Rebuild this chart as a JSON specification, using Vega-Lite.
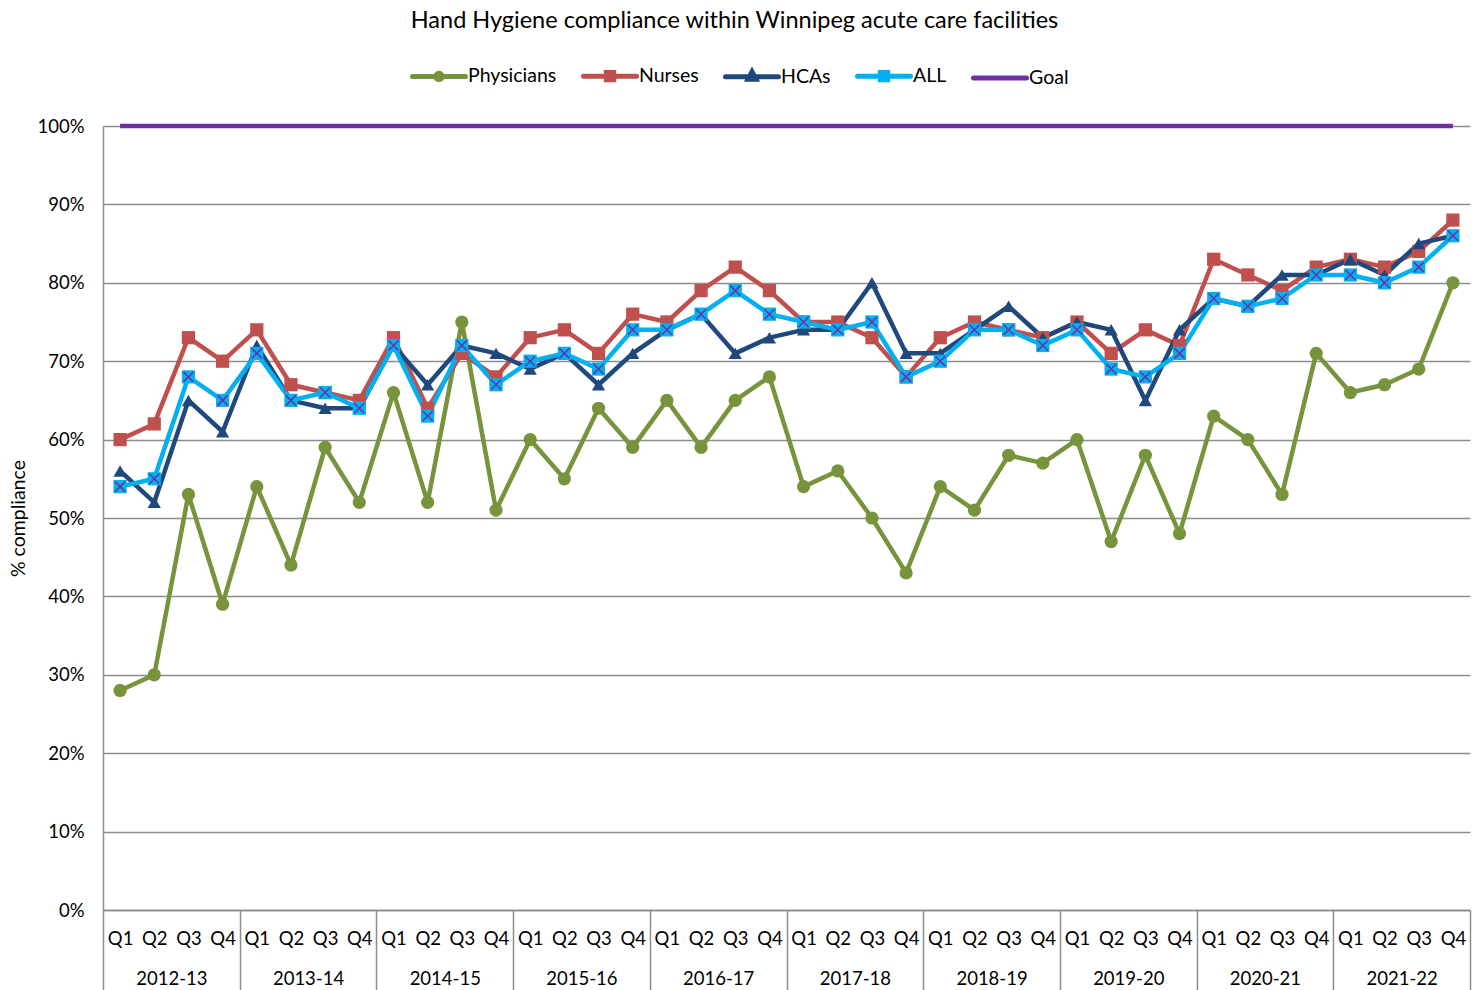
{
  "$schema": "https://vega.github.io/schema/vega-lite/v6.json",
  "width": 1367,
  "height": 784,
  "autosize": {"type": "none"},
  "padding": {"left": 103, "top": 126, "right": 9, "bottom": 80},
  "background": "white",
  "title": {
    "text": "Hand Hygiene compliance within Winnipeg acute care facilities",
    "font": "Lato",
    "fontSize": 23.5,
    "fontWeight": "normal",
    "color": "black",
    "anchor": "middle",
    "dx": -52,
    "offset": 15
  },
  "config": {
    "view": {"stroke": null},
    "font": "Lato"
  },
  "data": {
    "values": [
      {"q":"2012-13 Q1","fy":"2012-13","s":"Physicians","v":28},{"q":"2012-13 Q2","fy":"2012-13","s":"Physicians","v":30},{"q":"2012-13 Q3","fy":"2012-13","s":"Physicians","v":53},{"q":"2012-13 Q4","fy":"2012-13","s":"Physicians","v":39},
      {"q":"2013-14 Q1","fy":"2013-14","s":"Physicians","v":54},{"q":"2013-14 Q2","fy":"2013-14","s":"Physicians","v":44},{"q":"2013-14 Q3","fy":"2013-14","s":"Physicians","v":59},{"q":"2013-14 Q4","fy":"2013-14","s":"Physicians","v":52},
      {"q":"2014-15 Q1","fy":"2014-15","s":"Physicians","v":66},{"q":"2014-15 Q2","fy":"2014-15","s":"Physicians","v":52},{"q":"2014-15 Q3","fy":"2014-15","s":"Physicians","v":75},{"q":"2014-15 Q4","fy":"2014-15","s":"Physicians","v":51},
      {"q":"2015-16 Q1","fy":"2015-16","s":"Physicians","v":60},{"q":"2015-16 Q2","fy":"2015-16","s":"Physicians","v":55},{"q":"2015-16 Q3","fy":"2015-16","s":"Physicians","v":64},{"q":"2015-16 Q4","fy":"2015-16","s":"Physicians","v":59},
      {"q":"2016-17 Q1","fy":"2016-17","s":"Physicians","v":65},{"q":"2016-17 Q2","fy":"2016-17","s":"Physicians","v":59},{"q":"2016-17 Q3","fy":"2016-17","s":"Physicians","v":65},{"q":"2016-17 Q4","fy":"2016-17","s":"Physicians","v":68},
      {"q":"2017-18 Q1","fy":"2017-18","s":"Physicians","v":54},{"q":"2017-18 Q2","fy":"2017-18","s":"Physicians","v":56},{"q":"2017-18 Q3","fy":"2017-18","s":"Physicians","v":50},{"q":"2017-18 Q4","fy":"2017-18","s":"Physicians","v":43},
      {"q":"2018-19 Q1","fy":"2018-19","s":"Physicians","v":54},{"q":"2018-19 Q2","fy":"2018-19","s":"Physicians","v":51},{"q":"2018-19 Q3","fy":"2018-19","s":"Physicians","v":58},{"q":"2018-19 Q4","fy":"2018-19","s":"Physicians","v":57},
      {"q":"2019-20 Q1","fy":"2019-20","s":"Physicians","v":60},{"q":"2019-20 Q2","fy":"2019-20","s":"Physicians","v":47},{"q":"2019-20 Q3","fy":"2019-20","s":"Physicians","v":58},{"q":"2019-20 Q4","fy":"2019-20","s":"Physicians","v":48},
      {"q":"2020-21 Q1","fy":"2020-21","s":"Physicians","v":63},{"q":"2020-21 Q2","fy":"2020-21","s":"Physicians","v":60},{"q":"2020-21 Q3","fy":"2020-21","s":"Physicians","v":53},{"q":"2020-21 Q4","fy":"2020-21","s":"Physicians","v":71},
      {"q":"2021-22 Q1","fy":"2021-22","s":"Physicians","v":66},{"q":"2021-22 Q2","fy":"2021-22","s":"Physicians","v":67},{"q":"2021-22 Q3","fy":"2021-22","s":"Physicians","v":69},{"q":"2021-22 Q4","fy":"2021-22","s":"Physicians","v":80},

      {"q":"2012-13 Q1","fy":"2012-13","s":"Nurses","v":60},{"q":"2012-13 Q2","fy":"2012-13","s":"Nurses","v":62},{"q":"2012-13 Q3","fy":"2012-13","s":"Nurses","v":73},{"q":"2012-13 Q4","fy":"2012-13","s":"Nurses","v":70},
      {"q":"2013-14 Q1","fy":"2013-14","s":"Nurses","v":74},{"q":"2013-14 Q2","fy":"2013-14","s":"Nurses","v":67},{"q":"2013-14 Q3","fy":"2013-14","s":"Nurses","v":66},{"q":"2013-14 Q4","fy":"2013-14","s":"Nurses","v":65},
      {"q":"2014-15 Q1","fy":"2014-15","s":"Nurses","v":73},{"q":"2014-15 Q2","fy":"2014-15","s":"Nurses","v":64},{"q":"2014-15 Q3","fy":"2014-15","s":"Nurses","v":71},{"q":"2014-15 Q4","fy":"2014-15","s":"Nurses","v":68},
      {"q":"2015-16 Q1","fy":"2015-16","s":"Nurses","v":73},{"q":"2015-16 Q2","fy":"2015-16","s":"Nurses","v":74},{"q":"2015-16 Q3","fy":"2015-16","s":"Nurses","v":71},{"q":"2015-16 Q4","fy":"2015-16","s":"Nurses","v":76},
      {"q":"2016-17 Q1","fy":"2016-17","s":"Nurses","v":75},{"q":"2016-17 Q2","fy":"2016-17","s":"Nurses","v":79},{"q":"2016-17 Q3","fy":"2016-17","s":"Nurses","v":82},{"q":"2016-17 Q4","fy":"2016-17","s":"Nurses","v":79},
      {"q":"2017-18 Q1","fy":"2017-18","s":"Nurses","v":75},{"q":"2017-18 Q2","fy":"2017-18","s":"Nurses","v":75},{"q":"2017-18 Q3","fy":"2017-18","s":"Nurses","v":73},{"q":"2017-18 Q4","fy":"2017-18","s":"Nurses","v":68},
      {"q":"2018-19 Q1","fy":"2018-19","s":"Nurses","v":73},{"q":"2018-19 Q2","fy":"2018-19","s":"Nurses","v":75},{"q":"2018-19 Q3","fy":"2018-19","s":"Nurses","v":74},{"q":"2018-19 Q4","fy":"2018-19","s":"Nurses","v":73},
      {"q":"2019-20 Q1","fy":"2019-20","s":"Nurses","v":75},{"q":"2019-20 Q2","fy":"2019-20","s":"Nurses","v":71},{"q":"2019-20 Q3","fy":"2019-20","s":"Nurses","v":74},{"q":"2019-20 Q4","fy":"2019-20","s":"Nurses","v":72},
      {"q":"2020-21 Q1","fy":"2020-21","s":"Nurses","v":83},{"q":"2020-21 Q2","fy":"2020-21","s":"Nurses","v":81},{"q":"2020-21 Q3","fy":"2020-21","s":"Nurses","v":79},{"q":"2020-21 Q4","fy":"2020-21","s":"Nurses","v":82},
      {"q":"2021-22 Q1","fy":"2021-22","s":"Nurses","v":83},{"q":"2021-22 Q2","fy":"2021-22","s":"Nurses","v":82},{"q":"2021-22 Q3","fy":"2021-22","s":"Nurses","v":84},{"q":"2021-22 Q4","fy":"2021-22","s":"Nurses","v":88},

      {"q":"2012-13 Q1","fy":"2012-13","s":"HCAs","v":56},{"q":"2012-13 Q2","fy":"2012-13","s":"HCAs","v":52},{"q":"2012-13 Q3","fy":"2012-13","s":"HCAs","v":65},{"q":"2012-13 Q4","fy":"2012-13","s":"HCAs","v":61},
      {"q":"2013-14 Q1","fy":"2013-14","s":"HCAs","v":72},{"q":"2013-14 Q2","fy":"2013-14","s":"HCAs","v":65},{"q":"2013-14 Q3","fy":"2013-14","s":"HCAs","v":64},{"q":"2013-14 Q4","fy":"2013-14","s":"HCAs","v":64},
      {"q":"2014-15 Q1","fy":"2014-15","s":"HCAs","v":72},{"q":"2014-15 Q2","fy":"2014-15","s":"HCAs","v":67},{"q":"2014-15 Q3","fy":"2014-15","s":"HCAs","v":72},{"q":"2014-15 Q4","fy":"2014-15","s":"HCAs","v":71},
      {"q":"2015-16 Q1","fy":"2015-16","s":"HCAs","v":69},{"q":"2015-16 Q2","fy":"2015-16","s":"HCAs","v":71},{"q":"2015-16 Q3","fy":"2015-16","s":"HCAs","v":67},{"q":"2015-16 Q4","fy":"2015-16","s":"HCAs","v":71},
      {"q":"2016-17 Q1","fy":"2016-17","s":"HCAs","v":74},{"q":"2016-17 Q2","fy":"2016-17","s":"HCAs","v":76},{"q":"2016-17 Q3","fy":"2016-17","s":"HCAs","v":71},{"q":"2016-17 Q4","fy":"2016-17","s":"HCAs","v":73},
      {"q":"2017-18 Q1","fy":"2017-18","s":"HCAs","v":74},{"q":"2017-18 Q2","fy":"2017-18","s":"HCAs","v":74},{"q":"2017-18 Q3","fy":"2017-18","s":"HCAs","v":80},{"q":"2017-18 Q4","fy":"2017-18","s":"HCAs","v":71},
      {"q":"2018-19 Q1","fy":"2018-19","s":"HCAs","v":71},{"q":"2018-19 Q2","fy":"2018-19","s":"HCAs","v":74},{"q":"2018-19 Q3","fy":"2018-19","s":"HCAs","v":77},{"q":"2018-19 Q4","fy":"2018-19","s":"HCAs","v":73},
      {"q":"2019-20 Q1","fy":"2019-20","s":"HCAs","v":75},{"q":"2019-20 Q2","fy":"2019-20","s":"HCAs","v":74},{"q":"2019-20 Q3","fy":"2019-20","s":"HCAs","v":65},{"q":"2019-20 Q4","fy":"2019-20","s":"HCAs","v":74},
      {"q":"2020-21 Q1","fy":"2020-21","s":"HCAs","v":78},{"q":"2020-21 Q2","fy":"2020-21","s":"HCAs","v":77},{"q":"2020-21 Q3","fy":"2020-21","s":"HCAs","v":81},{"q":"2020-21 Q4","fy":"2020-21","s":"HCAs","v":81},
      {"q":"2021-22 Q1","fy":"2021-22","s":"HCAs","v":83},{"q":"2021-22 Q2","fy":"2021-22","s":"HCAs","v":81},{"q":"2021-22 Q3","fy":"2021-22","s":"HCAs","v":85},{"q":"2021-22 Q4","fy":"2021-22","s":"HCAs","v":86},

      {"q":"2012-13 Q1","fy":"2012-13","s":"ALL","v":54},{"q":"2012-13 Q2","fy":"2012-13","s":"ALL","v":55},{"q":"2012-13 Q3","fy":"2012-13","s":"ALL","v":68},{"q":"2012-13 Q4","fy":"2012-13","s":"ALL","v":65},
      {"q":"2013-14 Q1","fy":"2013-14","s":"ALL","v":71},{"q":"2013-14 Q2","fy":"2013-14","s":"ALL","v":65},{"q":"2013-14 Q3","fy":"2013-14","s":"ALL","v":66},{"q":"2013-14 Q4","fy":"2013-14","s":"ALL","v":64},
      {"q":"2014-15 Q1","fy":"2014-15","s":"ALL","v":72},{"q":"2014-15 Q2","fy":"2014-15","s":"ALL","v":63},{"q":"2014-15 Q3","fy":"2014-15","s":"ALL","v":72},{"q":"2014-15 Q4","fy":"2014-15","s":"ALL","v":67},
      {"q":"2015-16 Q1","fy":"2015-16","s":"ALL","v":70},{"q":"2015-16 Q2","fy":"2015-16","s":"ALL","v":71},{"q":"2015-16 Q3","fy":"2015-16","s":"ALL","v":69},{"q":"2015-16 Q4","fy":"2015-16","s":"ALL","v":74},
      {"q":"2016-17 Q1","fy":"2016-17","s":"ALL","v":74},{"q":"2016-17 Q2","fy":"2016-17","s":"ALL","v":76},{"q":"2016-17 Q3","fy":"2016-17","s":"ALL","v":79},{"q":"2016-17 Q4","fy":"2016-17","s":"ALL","v":76},
      {"q":"2017-18 Q1","fy":"2017-18","s":"ALL","v":75},{"q":"2017-18 Q2","fy":"2017-18","s":"ALL","v":74},{"q":"2017-18 Q3","fy":"2017-18","s":"ALL","v":75},{"q":"2017-18 Q4","fy":"2017-18","s":"ALL","v":68},
      {"q":"2018-19 Q1","fy":"2018-19","s":"ALL","v":70},{"q":"2018-19 Q2","fy":"2018-19","s":"ALL","v":74},{"q":"2018-19 Q3","fy":"2018-19","s":"ALL","v":74},{"q":"2018-19 Q4","fy":"2018-19","s":"ALL","v":72},
      {"q":"2019-20 Q1","fy":"2019-20","s":"ALL","v":74},{"q":"2019-20 Q2","fy":"2019-20","s":"ALL","v":69},{"q":"2019-20 Q3","fy":"2019-20","s":"ALL","v":68},{"q":"2019-20 Q4","fy":"2019-20","s":"ALL","v":71},
      {"q":"2020-21 Q1","fy":"2020-21","s":"ALL","v":78},{"q":"2020-21 Q2","fy":"2020-21","s":"ALL","v":77},{"q":"2020-21 Q3","fy":"2020-21","s":"ALL","v":78},{"q":"2020-21 Q4","fy":"2020-21","s":"ALL","v":81},
      {"q":"2021-22 Q1","fy":"2021-22","s":"ALL","v":81},{"q":"2021-22 Q2","fy":"2021-22","s":"ALL","v":80},{"q":"2021-22 Q3","fy":"2021-22","s":"ALL","v":82},{"q":"2021-22 Q4","fy":"2021-22","s":"ALL","v":86},

      {"q":"2012-13 Q1","fy":"2012-13","s":"Goal","v":100},{"q":"2012-13 Q2","fy":"2012-13","s":"Goal","v":100},{"q":"2012-13 Q3","fy":"2012-13","s":"Goal","v":100},{"q":"2012-13 Q4","fy":"2012-13","s":"Goal","v":100},
      {"q":"2013-14 Q1","fy":"2013-14","s":"Goal","v":100},{"q":"2013-14 Q2","fy":"2013-14","s":"Goal","v":100},{"q":"2013-14 Q3","fy":"2013-14","s":"Goal","v":100},{"q":"2013-14 Q4","fy":"2013-14","s":"Goal","v":100},
      {"q":"2014-15 Q1","fy":"2014-15","s":"Goal","v":100},{"q":"2014-15 Q2","fy":"2014-15","s":"Goal","v":100},{"q":"2014-15 Q3","fy":"2014-15","s":"Goal","v":100},{"q":"2014-15 Q4","fy":"2014-15","s":"Goal","v":100},
      {"q":"2015-16 Q1","fy":"2015-16","s":"Goal","v":100},{"q":"2015-16 Q2","fy":"2015-16","s":"Goal","v":100},{"q":"2015-16 Q3","fy":"2015-16","s":"Goal","v":100},{"q":"2015-16 Q4","fy":"2015-16","s":"Goal","v":100},
      {"q":"2016-17 Q1","fy":"2016-17","s":"Goal","v":100},{"q":"2016-17 Q2","fy":"2016-17","s":"Goal","v":100},{"q":"2016-17 Q3","fy":"2016-17","s":"Goal","v":100},{"q":"2016-17 Q4","fy":"2016-17","s":"Goal","v":100},
      {"q":"2017-18 Q1","fy":"2017-18","s":"Goal","v":100},{"q":"2017-18 Q2","fy":"2017-18","s":"Goal","v":100},{"q":"2017-18 Q3","fy":"2017-18","s":"Goal","v":100},{"q":"2017-18 Q4","fy":"2017-18","s":"Goal","v":100},
      {"q":"2018-19 Q1","fy":"2018-19","s":"Goal","v":100},{"q":"2018-19 Q2","fy":"2018-19","s":"Goal","v":100},{"q":"2018-19 Q3","fy":"2018-19","s":"Goal","v":100},{"q":"2018-19 Q4","fy":"2018-19","s":"Goal","v":100},
      {"q":"2019-20 Q1","fy":"2019-20","s":"Goal","v":100},{"q":"2019-20 Q2","fy":"2019-20","s":"Goal","v":100},{"q":"2019-20 Q3","fy":"2019-20","s":"Goal","v":100},{"q":"2019-20 Q4","fy":"2019-20","s":"Goal","v":100},
      {"q":"2020-21 Q1","fy":"2020-21","s":"Goal","v":100},{"q":"2020-21 Q2","fy":"2020-21","s":"Goal","v":100},{"q":"2020-21 Q3","fy":"2020-21","s":"Goal","v":100},{"q":"2020-21 Q4","fy":"2020-21","s":"Goal","v":100},
      {"q":"2021-22 Q1","fy":"2021-22","s":"Goal","v":100},{"q":"2021-22 Q2","fy":"2021-22","s":"Goal","v":100},{"q":"2021-22 Q3","fy":"2021-22","s":"Goal","v":100},{"q":"2021-22 Q4","fy":"2021-22","s":"Goal","v":100}
    ]
  },
  "layer": [
    {
      "mark": {"type": "rect", "opacity": 0},
      "encoding": {
        "x": {
          "field": "fy",
          "type": "nominal",
          "scale": {"type": "band", "paddingInner": 0, "paddingOuter": 0},
          "axis": {
            "orient": "bottom",
            "title": null,
            "tickBand": "extent",
            "tickSize": 80,
            "tickColor": "#8c8c8c",
            "tickWidth": 1.5,
            "domain": false,
            "labelPadding": -21,
            "labelAngle": 0,
            "labelFont": "Lato",
            "labelFontSize": 18.5,
            "labelColor": "black",
            "labelOverlap": false,
            "grid": false
          }
        }
      }
    },
    {
      "layer": [
        {
          "mark": {"type": "line", "strokeWidth": 4.5, "strokeJoin": "round"},
          "encoding": {
            "x": {
              "field": "q",
              "type": "ordinal",
              "sort": null,
              "scale": {"type": "point", "padding": 0.5},
              "axis": {
                "orient": "bottom",
                "title": null,
                "labelExpr": "substring(datum.label, 8)",
                "labelAngle": 0,
                "ticks": false,
                "domain": true,
                "domainColor": "#8c8c8c",
                "domainWidth": 1.5,
                "labelPadding": 19,
                "labelFont": "Lato",
                "labelFontSize": 18.5,
                "labelColor": "black",
                "labelOverlap": false,
                "grid": false
              }
            },
            "y": {
              "field": "v",
              "type": "quantitative",
              "scale": {"domain": [0, 100], "nice": false},
              "axis": {
                "title": "% compliance",
                "titleFont": "Lato",
                "titleFontSize": 19.5,
                "titleFontWeight": "normal",
                "titleColor": "black",
                "titlePadding": 8,
                "values": [0, 10, 20, 30, 40, 50, 60, 70, 80, 90, 100],
                "labelExpr": "datum.value + '%'",
                "labelFont": "Lato",
                "labelFontSize": 18.5,
                "labelColor": "black",
                "labelPadding": 19,
                "ticks": false,
                "domain": true,
                "domainColor": "#8c8c8c",
                "domainWidth": 1.5,
                "grid": true,
                "gridColor": "#8c8c8c",
                "gridWidth": 1.5
              }
            },
            "color": {
              "field": "s",
              "type": "nominal",
              "scale": {
                "domain": ["Physicians", "Nurses", "HCAs", "ALL", "Goal"],
                "range": ["#77933C", "#C0504D", "#1F497D", "#00B0F0", "#7030A0"]
              },
              "legend": {
                "title": null,
                "orient": "none",
                "direction": "horizontal",
                "legendX": 307,
                "legendY": -79,
                "labelFont": "Lato",
                "labelFontSize": 19.5,
                "labelColor": "black",
                "labelOffset": 0,
                "columnPadding": 16,
                "symbolSize": 2809,
                "encode": {
                  "symbols": {
                    "update": {
                      "shape": {"signal": "datum.value === 'Physicians' ? 'M-1,0H1M0.12,0A0.12,0.12,0,1,1,-0.12,0A0.12,0.12,0,1,1,0.12,0Z' : datum.value === 'Nurses' ? 'M-1,0H1M-0.14,-0.14H0.14V0.14H-0.14Z' : datum.value === 'HCAs' ? 'M-1,0H1M0,-0.19L0.15,0.09H-0.15Z' : datum.value === 'ALL' ? 'M-1,0H1M-0.14,-0.14H0.14V0.14H-0.14Z' : 'M-1,0H1'"},
                      "fill": {"signal": "datum.value === 'Goal' ? 'transparent' : scale('color', datum.value)"},
                      "stroke": {"signal": "scale('color', datum.value)"},
                      "strokeWidth": {"value": 5},
                      "strokeCap": {"value": "round"},
                      "size": {"value": 2809},
                      "opacity": {"value": 1}
                    }
                  }
                }
              }
            }
          }
        },
        {
          "transform": [{"filter": "datum.s !== 'Goal'"}],
          "mark": {"type": "point", "filled": true, "size": 175, "opacity": 1},
          "encoding": {
            "x": {"field": "q", "type": "ordinal", "sort": null},
            "y": {"field": "v", "type": "quantitative"},
            "color": {"field": "s", "type": "nominal", "legend": null},
            "shape": {
              "field": "s",
              "type": "nominal",
              "legend": null,
              "scale": {
                "domain": ["Physicians", "Nurses", "HCAs", "ALL"],
                "range": ["circle", "square", "triangle-up", "square"]
              }
            }
          }
        },
        {
          "transform": [{"filter": "datum.s === 'ALL'"}],
          "mark": {"type": "point", "filled": false, "size": 100, "shape": "M-1,-1L1,1M-1,1L1,-1", "stroke": "#7030A0", "strokeWidth": 1.5, "opacity": 1},
          "encoding": {
            "x": {"field": "q", "type": "ordinal", "sort": null},
            "y": {"field": "v", "type": "quantitative"}
          }
        }
      ]
    }
  ],
  "resolve": {"scale": {"x": "independent"}, "axis": {"x": "independent"}}
}
